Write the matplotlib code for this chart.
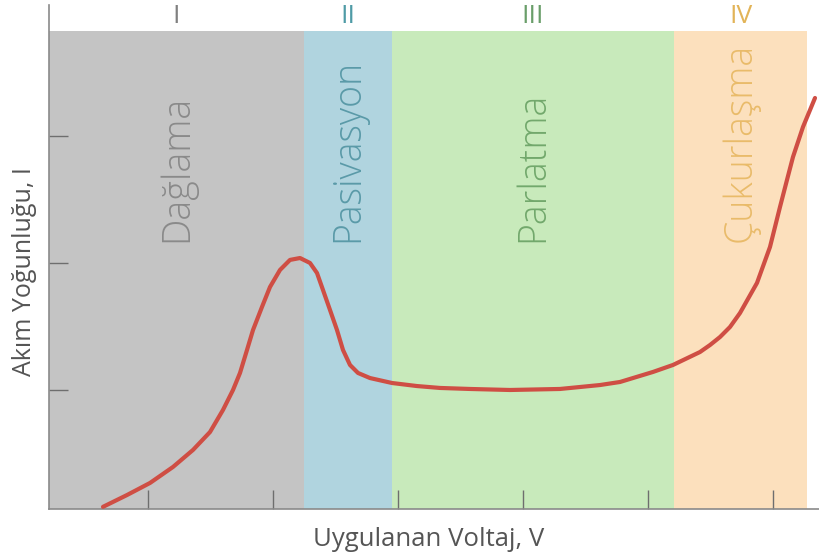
import matplotlib
matplotlib.use("Agg")
import matplotlib.pyplot as plt

# curve (x in tick units, y in tick units)
voltage = [0.640, 0.832, 1.016, 1.200, 1.360, 1.496, 1.600, 1.680, 1.736, 1.792,
           1.840, 1.912, 1.976, 2.056, 2.136, 2.216, 2.296, 2.352, 2.400, 2.456,
           2.512, 2.560, 2.616, 2.680, 2.776, 2.952, 3.152, 3.336, 3.576, 3.896,
           4.296, 4.616, 4.776, 5.040, 5.200, 5.416, 5.496, 5.576, 5.656, 5.736,
           5.872, 5.976, 6.056, 6.112, 6.160, 6.200, 6.240, 6.336]
current = [0.080, 0.173, 0.268, 0.394, 0.528, 0.669, 0.843, 1.000, 1.134, 1.315,
           1.472, 1.654, 1.811, 1.945, 2.024, 2.039, 2.000, 1.921, 1.787, 1.630,
           1.472, 1.315, 1.197, 1.134, 1.094, 1.055, 1.031, 1.016, 1.008, 1.000,
           1.008, 1.039, 1.063, 1.142, 1.197, 1.299, 1.354, 1.417, 1.496, 1.606,
           1.843, 2.126, 2.441, 2.654, 2.835, 2.953, 3.071, 3.299]

# regions
region_edges = [0.208, 2.248, 2.952, 5.208, 6.272]
region_numerals = ["I", "II", "III", "IV"]
region_names = ["Dağlama", "Pasivasyon", "Parlatma", "Çukurlaşma"]
region_fill = ["#c4c4c4", "#b0d4df", "#c8eabb", "#fce0bd"]
region_text = ["#8a8a8a", "#5a9aa8", "#72a86c", "#e9bb6a"]
numeral_colors = ["#808080", "#4f9ba6", "#6a9e6a", "#e2b458"]

x_ticks = [1, 2, 3, 4, 5, 6]
y_ticks = [1, 2, 3]

plt.rcParams['font.family'] = ['Open Sans', 'DejaVu Sans']

fig = plt.figure(figsize=(8.19, 5.58), dpi=100)
ax = fig.add_axes([49 / 819, 49 / 558, 770 / 819, 504 / 558])

y_lo, y_hi = 0.063, 4.031
region_top = 3.827
ax.set_xlim(0.208, 6.368)
ax.set_ylim(y_lo, y_hi)

for i in range(4):
    x0, x1 = region_edges[i], region_edges[i + 1]
    ax.fill_between([x0, x1], y_lo, region_top, color=region_fill[i], lw=0, zorder=0)
    xc = (x0 + x1) / 2
    ax.text(xc, 3.937, region_numerals[i], color=numeral_colors[i], fontsize=19,
            ha="center", va="center")
    ax.text(xc, 2.165, region_names[i], color=region_text[i], fontsize=27,
            fontweight="light", rotation=90, ha="center", va="bottom")

ax.plot(voltage, current, color="#cf4e44", lw=3, solid_capstyle="round",
        solid_joinstyle="round", zorder=3)

for side in ["top", "right"]:
    ax.spines[side].set_visible(False)
for side in ["left", "bottom"]:
    ax.spines[side].set_color("#8a8a8a")
    ax.spines[side].set_linewidth(1.2)

ax.set_xticks(x_ticks)
ax.set_yticks(y_ticks)
ax.set_xticklabels([])
ax.set_yticklabels([])
ax.tick_params(direction="in", length=13.5, width=1, color="#6e6e6e")

fig.text(429 / 819, 1 - 540 / 558, "Uygulanan Voltaj, V", color="#555555",
         fontsize=18.5, ha="center", va="center")
fig.text(25 / 819, 1 - 272 / 558, "Akım Yoğunluğu, I", color="#555555",
         fontsize=18, ha="center", va="center", rotation=90)

fig.savefig("out.png", dpi=100)
